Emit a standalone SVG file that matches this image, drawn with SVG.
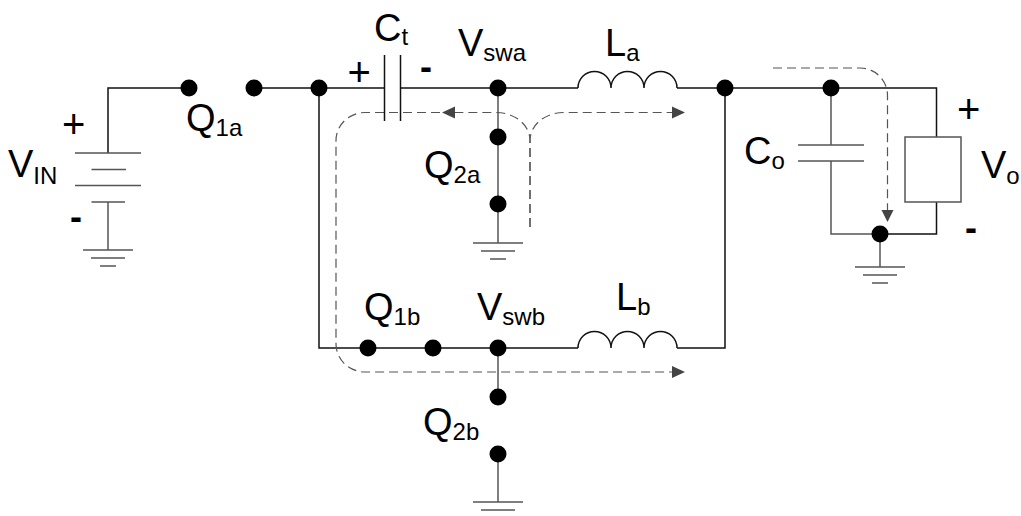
<svg xmlns="http://www.w3.org/2000/svg" width="1021" height="516" viewBox="0 0 1021 516">
<style>
.w{fill:none;stroke:#111;stroke-width:1.5}
.g{fill:none;stroke:#555;stroke-width:1.5}
.d{fill:none;stroke:#555;stroke-width:1.2;stroke-dasharray:9 5}
.dot{fill:#000}
.ah{fill:#444}
text{font-family:"Liberation Sans",Arial,sans-serif;font-size:38px;fill:#000}
.s{font-size:24px}
.p{font-size:40px}
.m{font-size:36px;font-weight:bold}
</style>
<defs>
<path id="coil" d="M0 0A16.5 16.5 0 0 1 33 0A16.5 16.5 0 0 1 66 0A16.5 16.5 0 0 1 99 0"/>
<path id="gnd" d="M-25 0H25M-17 8H17M-8 16H8"/>
<circle id="p" r="8.5"/>
</defs>
<rect width="1021" height="516" fill="#fff"/>
<g id="connectors">
<path class="w" d="M189 88H108V153M254 88H384.5M400.5 88H578M677 88H936.5V137M936.5 202V234H880M319 88V348H578M677 348H725V88"/>
<path class="g" d="M108 202V250M498 88V243M498 348V397M498 454V502M831 88V145M831 161V234H880M880 234V267"/>
<g id="paths">
<path class="d" d="M454 112.500H365A29 28 0 0 0 336 140.500V344A29 28 0 0 0 365 372H673"/>
<path class="d" d="M530 227V140C530 126 516 112.500 496 112.500H454"/>
<path class="d" d="M530 227V140C530 126 544 112.500 564 112.500H673"/>
<path class="d" d="M773 68H860A27.500 27.500 0 0 1 887.500 95.500V211"/>
<path class="ah" d="M442 112.500L455 106.500V118.500Z"/>
<path class="ah" d="M685 112.500L672 106.500V118.500Z"/>
<path class="ah" d="M685 372L672 366V378Z"/>
<path class="ah" d="M887.500 222L881.500 210H893.500Z"/>
</g>
</g>
<g id="VIN">
<path class="g" d="M75 153H141M91.500 169.500H126M75 185.500H141M91.500 202H125"/>
<use href="#gnd" class="g" x="108" y="250"/>
<text x="8" y="177">V<tspan class="s" dy="7">IN</tspan></text>
<text class="p" x="62" y="138">+</text>
<text class="m" x="70" y="229">-</text>
</g>
<g id="Q1a">
<use href="#p" class="dot" x="189" y="88"/><use href="#p" class="dot" x="254" y="88"/>
<text x="186" y="131">Q<tspan class="s" dy="5">1a</tspan></text>
</g>
<g id="junction-a"><use href="#p" class="dot" x="319" y="88"/></g>
<g id="Ct">
<path class="w" d="M384.500 55V121M400.500 55V121"/>
<text x="374" y="41">C<tspan class="s" dy="4">t</tspan></text>
<text class="p" x="347.500" y="86">+</text>
<text class="m" x="420" y="79">-</text>
</g>
<g id="Vswa"><use href="#p" class="dot" x="498" y="88"/>
<text x="458" y="56">V<tspan class="s" dy="5">swa</tspan></text></g>
<g id="La"><use href="#coil" class="w" x="578" y="88"/>
<text x="605" y="56">L<tspan class="s" dy="5">a</tspan></text></g>
<g id="Q2a"><use href="#p" class="dot" x="498" y="137"/><use href="#p" class="dot" x="498" y="204"/>
<text x="424" y="178">Q<tspan class="s" dy="5">2a</tspan></text>
<use href="#gnd" class="g" x="498" y="243"/></g>
<g id="junction-b"><use href="#p" class="dot" x="725" y="88"/></g>
<g id="Co"><use href="#p" class="dot" x="831" y="88"/>
<path class="g" d="M798 145H864M798 161H864"/>
<text x="744" y="164">C<tspan class="s" dy="5">o</tspan></text></g>
<g id="Vo">
<rect class="g" x="905" y="137" width="56" height="65"/>
<text x="981" y="178">V<tspan class="s" dy="6">o</tspan></text>
<text class="p" x="957" y="122.500">+</text>
<text class="m" x="965" y="240">-</text>
</g>
<g id="output-gnd"><use href="#p" class="dot" x="880" y="234"/><use href="#gnd" class="g" x="880" y="267"/></g>
<g id="Q1b"><use href="#p" class="dot" x="368" y="348"/><use href="#p" class="dot" x="433" y="348"/>
<text x="364" y="320">Q<tspan class="s" dy="5">1b</tspan></text></g>
<g id="Vswb"><use href="#p" class="dot" x="498" y="348"/>
<text x="477" y="320">V<tspan class="s" dy="5">swb</tspan></text></g>
<g id="Lb"><use href="#coil" class="w" x="578" y="348"/>
<text x="616" y="310">L<tspan class="s" dy="5">b</tspan></text></g>
<g id="Q2b"><use href="#p" class="dot" x="498" y="397"/><use href="#p" class="dot" x="498" y="454"/>
<text x="423" y="435">Q<tspan class="s" dy="5">2b</tspan></text>
<use href="#gnd" class="g" x="498" y="502"/></g>
</svg>
